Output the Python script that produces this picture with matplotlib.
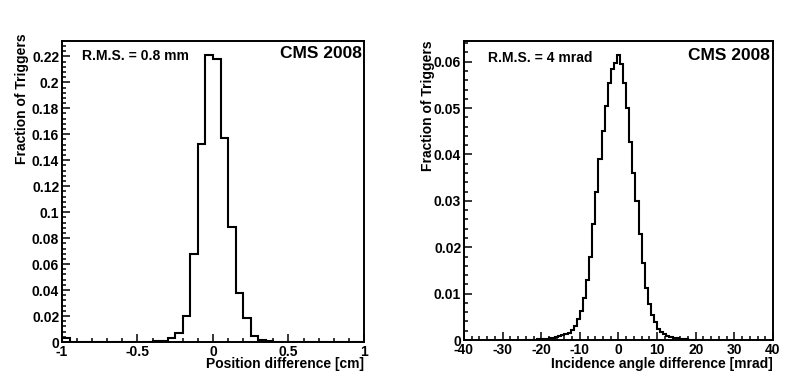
import numpy as np
import matplotlib
matplotlib.use("Agg")
import matplotlib.pyplot as plt
from matplotlib.ticker import MultipleLocator, FormatStrFormatter

plt.rcParams["font.family"] = ["Liberation Sans", "DejaVu Sans"]
plt.rcParams["font.weight"] = "bold"

# left panel: position difference [cm], 40 bins of 0.05 on [-1, 1]
pos_range = (-1.0, 1.0)
pos_frac = [
    0.003, 0, 0, 0, 0, 0, 0, 0, 0, 0,
    0, 0, 0.0004, 0.001, 0.003, 0.0069, 0.0198, 0.0681, 0.1528, 0.2208,
    0.2177, 0.1571, 0.0886, 0.0377, 0.0188, 0.0044, 0.0012, 0.0005, 0.0002, 0,
    0, 0, 0, 0, 0, 0, 0, 0, 0, 0,
]

# right panel: incidence angle difference [mrad], bins of 0.8 mrad
ang_width = 0.8
ang_first_center = -24.0
ang_frac = [
    0.0001, 0.0001, 0.0001, 0.0001, 0.00012, 0.00015, 0.0002, 0.0003,
    0.0004, 0.0005, 0.0007, 0.0008, 0.0010, 0.0012, 0.0016, 0.0022,
    0.0031, 0.0045, 0.0062, 0.0090, 0.0130, 0.0180, 0.0250, 0.0320,
    0.0390, 0.0450, 0.0505, 0.0555, 0.0585, 0.0597, 0.0614, 0.0595,
    0.0555, 0.0500, 0.0428, 0.0360, 0.0300, 0.0228, 0.0165, 0.0113,
    0.0078, 0.0053, 0.0038, 0.0024, 0.0017, 0.0012, 0.0009, 0.0007,
    0.0005, 0.0004, 0.0003, 0.0002, 0.00015, 0.0001, 0.0001, 0.00005,
    0.00005, 0.00005,
]

W, H = 804, 382
fig = plt.figure(figsize=(W / 100, H / 100), dpi=100)


def px_axes(x0, y0, x1, y1):
    return fig.add_axes([x0 / W, 1 - y1 / H, (x1 - x0) / W, (y1 - y0) / H])


def style(ax, xmaj, xmin, ymaj, ymin):
    for s in ax.spines.values():
        s.set_linewidth(1.4)
    ax.xaxis.set_major_locator(MultipleLocator(xmaj))
    ax.xaxis.set_minor_locator(MultipleLocator(xmin))
    ax.yaxis.set_major_locator(MultipleLocator(ymaj))
    ax.yaxis.set_minor_locator(MultipleLocator(ymin))
    ax.xaxis.set_major_formatter(FormatStrFormatter("%g"))
    ax.yaxis.set_major_formatter(FormatStrFormatter("%g"))
    ax.tick_params(which="both", direction="in", top=False, right=False,
                   width=1.1, labelsize=10)
    ax.tick_params(which="major", length=6)
    ax.tick_params(which="minor", length=3)
    ax.tick_params(axis="y", pad=2)
    ax.tick_params(axis="x", pad=2)


# left panel
ax1 = px_axes(62, 41, 364, 342)
pos_edges = np.linspace(pos_range[0], pos_range[1], len(pos_frac) + 1)
ax1.stairs(pos_frac, pos_edges, color="black", linewidth=1.5)
ax1.set_xlim(-1, 1)
ax1.set_ylim(0, max(pos_frac) * 1.05)
style(ax1, 0.5, 0.1, 0.02, 0.004)
ax1.text(82 / W, 1 - 56 / H, "R.M.S. = 0.8 mm", transform=fig.transFigure,
         fontsize=10, fontweight="bold", ha="left", va="center")
ax1.text(362 / W, 1 - 53 / H, "CMS 2008", transform=fig.transFigure,
         fontsize=12.5, fontweight="bold", ha="right", va="center")
fig.text(364 / W, 1 - 368 / H, "Position difference [cm]", fontsize=10,
         fontweight="bold", ha="right", va="baseline")
fig.text(22 / W, 1 - 33 / H, "Fraction of Triggers", fontsize=10,
         fontweight="bold", rotation=90, ha="center", va="top")

# right panel
ax2 = px_axes(464, 41, 773, 340)
ang_edges = ang_first_center - ang_width / 2 + ang_width * np.arange(len(ang_frac) + 1)
ax2.stairs(ang_frac, ang_edges, color="black", linewidth=1.5)
ax2.set_xlim(-40, 40)
ax2.set_ylim(0, max(ang_frac) * 1.05)
style(ax2, 10, 2, 0.01, 0.002)
ax2.text(488 / W, 1 - 58 / H, "R.M.S. = 4 mrad", transform=fig.transFigure,
         fontsize=10, fontweight="bold", ha="left", va="center")
ax2.text(770 / W, 1 - 55 / H, "CMS 2008", transform=fig.transFigure,
         fontsize=12.5, fontweight="bold", ha="right", va="center")
fig.text(773 / W, 1 - 368 / H, "Incidence angle difference [mrad]", fontsize=10,
         fontweight="bold", ha="right", va="baseline")
fig.text(428 / W, 1 - 40 / H, "Fraction of Triggers", fontsize=10,
         fontweight="bold", rotation=90, ha="center", va="top")

fig.savefig("out.png", dpi=100)
